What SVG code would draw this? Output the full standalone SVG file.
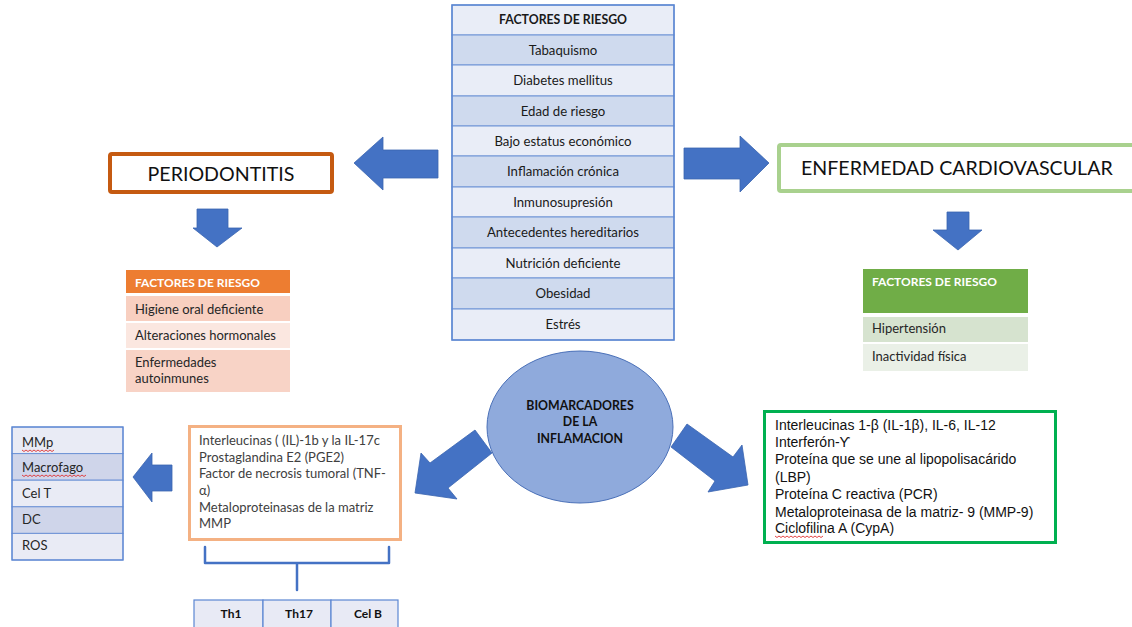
<svg xmlns="http://www.w3.org/2000/svg" width="1132" height="627" viewBox="0 0 1132 627">
<style>
.c{font-family:Lato,"Noto Sans",sans-serif;}
.a{font-family:"Liberation Sans",Arial,sans-serif;}
.ct{font-size:13.2px;fill:#1a1a1a;text-anchor:middle;}
.lt{font-size:13px;fill:#262626;}
.hd{font-size:12px;font-weight:bold;fill:#ffffff;}
.gt{font-size:14px;fill:#111;}
.rowL{fill:#E9EDF7;stroke:#6E93D6;stroke-width:1;}
.rowD{fill:#CFDAEE;stroke:#6E93D6;stroke-width:1;}
.arr{fill:#4472C4;stroke:#3A64B0;stroke-width:0.8;}
.wave{fill:none;stroke:#E03030;stroke-width:0.9;}
</style>
<rect width="1132" height="627" fill="#ffffff"/>

<g id="central-table" class="c">
<rect x="452" y="5" width="222" height="30" class="rowL"/>
<rect x="452" y="35" width="222" height="30" class="rowD"/>
<rect x="452" y="65" width="222" height="31" class="rowL"/>
<rect x="452" y="96" width="222" height="30" class="rowD"/>
<rect x="452" y="126" width="222" height="30" class="rowL"/>
<rect x="452" y="156" width="222" height="31" class="rowD"/>
<rect x="452" y="187" width="222" height="30" class="rowL"/>
<rect x="452" y="217" width="222" height="31" class="rowD"/>
<rect x="452" y="248" width="222" height="30" class="rowL"/>
<rect x="452" y="278" width="222" height="31" class="rowD"/>
<rect x="452" y="309" width="222" height="31" class="rowL"/>
<rect x="452" y="5" width="222" height="335" fill="none" stroke="#5B86D2" stroke-width="1.5"/>
<text x="563" y="24" class="ct" style="font-weight:bold;font-size:12.3px">FACTORES DE RIESGO</text>
<text x="563" y="54.5" class="ct">Tabaquismo</text>
<text x="563" y="85" class="ct">Diabetes mellitus</text>
<text x="563" y="115.5" class="ct">Edad de riesgo</text>
<text x="563" y="145.5" class="ct">Bajo estatus económico</text>
<text x="563" y="176" class="ct">Inflamación crónica</text>
<text x="563" y="206.5" class="ct">Inmunosupresión</text>
<text x="563" y="237" class="ct">Antecedentes hereditarios</text>
<text x="563" y="267.5" class="ct">Nutrición deficiente</text>
<text x="563" y="298" class="ct">Obesidad</text>
<text x="563" y="329" class="ct">Estrés</text>
</g>

<g id="periodontitis">
<rect x="110" y="154" width="222" height="38" fill="#ffffff" stroke="#C55A11" stroke-width="4" rx="2"/>
<text x="221" y="181" class="c" style="font-size:19.6px;fill:#111;text-anchor:middle">PERIODONTITIS</text>
</g>

<g id="enfermedad-cardiovascular">
<rect x="779" y="145" width="360" height="46" fill="#ffffff" stroke="#A9D18E" stroke-width="4" rx="2"/>
<text x="801" y="175" class="c" style="font-size:19.6px;fill:#111">ENFERMEDAD CARDIOVASCULAR</text>
</g>

<g id="periodontitis-risk" class="c">
<rect x="126" y="270" width="164" height="23" fill="#ED7D31"/>
<rect x="126" y="296" width="164" height="25" fill="#F8CFC0"/>
<rect x="126" y="323" width="164" height="25" fill="#FBE7E0"/>
<rect x="126" y="350" width="164" height="42" fill="#F8D3C6"/>
<text x="135" y="287" class="hd">FACTORES DE RIESGO</text>
<text x="135" y="314" class="lt">Higiene oral deficiente</text>
<text x="135" y="340" class="lt">Alteraciones hormonales</text>
<text x="135" y="367" class="lt">Enfermedades</text>
<text x="135" y="383" class="lt">autoinmunes</text>
</g>

<g id="cardio-risk" class="c">
<rect x="863" y="269" width="165" height="44" fill="#70AD47"/>
<rect x="863" y="317" width="165" height="25" fill="#D6E3CF"/>
<rect x="863" y="344" width="165" height="27" fill="#EAF0E7"/>
<text x="872" y="286" class="hd">FACTORES DE RIESGO</text>
<text x="872" y="333" class="lt">Hipertensión</text>
<text x="872" y="361" class="lt">Inactividad física</text>
</g>

<g id="biomarcadores" class="c">
<ellipse cx="580" cy="427" rx="93" ry="76" fill="#8FAADC" stroke="#4A70B8" stroke-width="1"/>
<text x="580" y="410" style="font-size:12.3px;font-weight:bold;fill:#111;text-anchor:middle">BIOMARCADORES</text>
<text x="580" y="426" style="font-size:12.3px;font-weight:bold;fill:#111;text-anchor:middle">DE LA</text>
<text x="580" y="443" style="font-size:12.3px;font-weight:bold;fill:#111;text-anchor:middle">INFLAMACION</text>
</g>

<g id="periodontitis-biomarkers" class="c">
<rect x="189.5" y="426.5" width="211" height="113" fill="#ffffff" stroke="#F4B183" stroke-width="3"/>
<text x="199" y="445" class="lt" style="fill:#404040">Interleucinas ( (IL)-1b y la IL-17c</text>
<text x="199" y="462" class="lt" style="fill:#404040">Prostaglandina E2 (PGE2)</text>
<text x="199" y="478" class="lt" style="fill:#404040">Factor de necrosis tumoral (TNF-</text>
<text x="199" y="495" class="lt" style="fill:#404040">α)</text>
<text x="199" y="512" class="lt" style="fill:#404040">Metaloproteinasas de la matriz</text>
<text x="199" y="528" class="lt" style="fill:#404040">MMP</text>
</g>

<g id="cardio-biomarkers" class="a">
<rect x="764.5" y="411.5" width="291" height="131" fill="#ffffff" stroke="#00B050" stroke-width="3"/>
<text x="775" y="430" class="gt">Interleucinas 1-β (IL-1β), IL-6, IL-12</text>
<text x="775" y="447" class="gt">Interferón-Ƴ</text>
<text x="775" y="464" class="gt">Proteína que se une al lipopolisacárido</text>
<text x="775" y="482" class="gt">(LBP)</text>
<text x="775" y="499" class="gt">Proteína C reactiva (PCR)</text>
<text x="775" y="517" class="gt">Metaloproteinasa de la matriz- 9 (MMP-9)</text>
<text x="775" y="533" class="gt">Ciclofilina A (CypA)</text>
<path class="wave" d="M775 536 l2 1.5 l2 -1.5 l2 1.5 l2 -1.5 l2 1.5 l2 -1.5 l2 1.5 l2 -1.5 l2 1.5 l2 -1.5 l2 1.5 l2 -1.5 l2 1.5 l2 -1.5 l2 1.5 l2 -1.5 l2 1.5 l2 -1.5 l2 1.5 l2 -1.5 l2 1.5 l2 -1.5 l2 1.5 l2 -1.5"/>
</g>

<g id="cells-table" class="c">
<rect x="12" y="427" width="111" height="26.6" class="rowL" style="fill:#E9EBF5"/>
<rect x="12" y="453.6" width="111" height="26.6" class="rowD" style="fill:#CFD5EA"/>
<rect x="12" y="480.2" width="111" height="26.6" class="rowL" style="fill:#E9EBF5"/>
<rect x="12" y="506.8" width="111" height="26.6" class="rowD" style="fill:#CFD5EA"/>
<rect x="12" y="533.4" width="111" height="26.6" class="rowL" style="fill:#E9EBF5"/>
<rect x="12" y="427" width="111" height="133" fill="none" stroke="#5B86D2" stroke-width="1.2"/>
<text x="22" y="447" class="lt">MMp</text>
<text x="22" y="472" class="lt">Macrofago</text>
<text x="22" y="498" class="lt">Cel T</text>
<text x="22" y="524" class="lt">DC</text>
<text x="22" y="550" class="lt">ROS</text>
<path class="wave" d="M22 450 l2 1.5 l2 -1.5 l2 1.5 l2 -1.5 l2 1.5 l2 -1.5 l2 1.5 l2 -1.5 l2 1.5 l2 -1.5 l2 1.5 l2 -1.5 l2 1.5 l2 -1.5 l2 1.5 l2 -1.5"/>
<path class="wave" d="M22 475 l2 1.5 l2 -1.5 l2 1.5 l2 -1.5 l2 1.5 l2 -1.5 l2 1.5 l2 -1.5 l2 1.5 l2 -1.5 l2 1.5 l2 -1.5 l2 1.5 l2 -1.5 l2 1.5 l2 -1.5 l2 1.5 l2 -1.5 l2 1.5 l2 -1.5 l2 1.5 l2 -1.5 l2 1.5 l2 -1.5 l2 1.5 l2 -1.5 l2 1.5 l2 -1.5 l2 1.5 l2 -1.5 l2 1.5 l2 -1.5"/>
</g>

<g id="th-table" class="c">
<rect x="194" y="600" width="69" height="30" fill="#E8EAF5" stroke="#5B86D2" stroke-width="1.2"/>
<rect x="263" y="600" width="68" height="30" fill="#E8EAF5" stroke="#5B86D2" stroke-width="1.2"/>
<rect x="331" y="600" width="67" height="30" fill="#E8EAF5" stroke="#5B86D2" stroke-width="1.2"/>
<text x="231" y="618" style="font-size:12px;font-weight:bold;fill:#111;text-anchor:middle">Th1</text>
<text x="299" y="618" style="font-size:12px;font-weight:bold;fill:#111;text-anchor:middle">Th17</text>
<text x="368" y="618" style="font-size:12px;font-weight:bold;fill:#111;text-anchor:middle">Cel B</text>
</g>

<g id="connectors">
<polygon class="arr" points="438,150 383,150 383,137 354,163 383,190 383,178 438,178"/>
<polygon class="arr" points="684,148 740,148 740,136 769,163 740,192 740,179 684,179"/>
<polygon class="arr" points="197,209 228,209 228,228 242,228 217,247 193,228 197,228"/>
<polygon class="arr" points="947,212 969,212 969,230 982,230 958,250 933,230 947,230"/>
<polygon class="arr" points="475,430 430,463 421,453 415,493 457,499 448,488 492,453"/>
<polygon class="arr" points="687,424 733,457 742,445 748,485 708,492 715,481 671,447"/>
<polygon class="arr" points="172,465 152,465 152,453 133,477 152,502 152,491 172,491"/>
<path d="M205 547 L205 563 L297 563 L297 590 M297 563 L389 563 L389 547" fill="none" stroke="#4472C4" stroke-width="2.5" stroke-linejoin="round" stroke-linecap="round"/>
</g>
</svg>
